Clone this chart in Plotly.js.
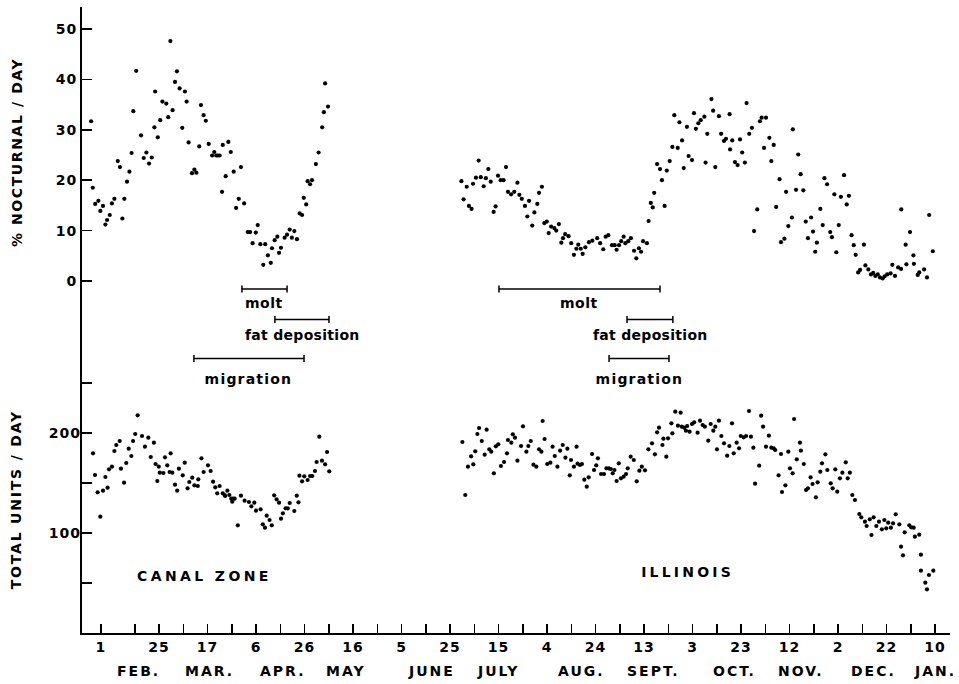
<!DOCTYPE html>
<html>
<head>
<meta charset="utf-8">
<script src="https://cdn.plot.ly/plotly-3.0.1.min.js"></script>
<style>
  html, body { margin: 0; padding: 0; background: #fff; }
  #chart { width: 959px; height: 684px; }
</style>
</head>
<body>
<div id="chart"></div>
<script>
// Days counted from Feb 1 (= 0)
const canalDayUp = [-4.0,-3.3,-2.3,-1.0,-0.2,0.9,1.9,2.6,3.7,4.6,5.6,7.0,7.9,8.9,9.7,10.8,11.8,12.7,13.4,14.6,16.6,17.7,18.8,19.9,21.0,22.1,22.4,23.5,24.5,25.4,27.0,27.8,28.7,29.6,30.6,31.4,32.5,33.6,34.7,35.4,36.2,37.6,38.6,39.4,40.6,41.3,42.4,43.3,44.5,45.9,46.8,47.6,48.2,49.0,50.0,50.3,51.5,52.6,53.6,54.8,55.8,56.9,57.8,59.1,60.6,61.6,62.6,63.9,64.7,65.8,67.0,67.8,68.9,70.1,70.6,71.7,72.8,73.5,74.3,75.8,76.8,77.9,78.8,79.8,80.9,82.0,83.0,83.7,84.7,85.3,86.3,87.1,88.7,89.8,91.3,92.0,92.5,93.7];
const canalNoct = [31.7,18.5,15.3,15.9,13.9,14.9,11.2,12.1,13.1,15.4,16.3,23.8,22.6,12.4,16.3,19.7,21.7,25.4,33.7,41.7,28.9,24.4,25.5,23.3,24.5,30.5,37.6,28.5,31.9,35.6,35.2,32.5,47.6,33.9,39.5,41.6,38.2,30.4,37.6,35.6,27.5,21.4,22.1,21.5,26.7,34.9,32.9,31.8,27.2,24.9,25.6,24.9,24.9,24.9,17.7,27.0,20.8,27.6,25.6,21.7,14.5,16.3,22.6,15.4,9.7,9.7,7.5,9.6,11.1,7.3,3.2,7.3,5.1,3.6,6.5,8.1,8.8,5.6,6.6,8.6,9.2,10.2,8.6,9.9,8.3,13.4,13.1,16.5,15.2,19.8,19.2,20.0,23.2,25.5,30.5,33.5,39.2,34.6];

const canalDayLow = [-3.2,-2.4,-1.3,-0.2,0.9,1.9,2.8,3.4,4.6,5.6,6.4,7.8,8.3,9.6,10.5,11.5,12.6,13.3,14.2,15.2,17.0,18.2,19.6,20.6,21.9,22.6,23.3,23.9,24.3,25.8,26.5,27.4,28.4,28.8,29.5,30.6,31.5,32.2,33.8,34.6,35.8,36.5,37.7,38.6,40.0,40.2,41.5,42.4,44.2,45.3,46.3,47.2,48.0,49.0,50.3,51.1,51.3,52.2,53.0,53.8,54.2,54.6,55.2,56.5,57.8,59.3,61.1,62.1,63.3,64.0,65.9,66.8,67.7,68.4,69.6,70.5,71.5,72.5,73.5,74.3,75.1,76.2,77.1,77.9,79.8,80.8,81.5,81.9,83.0,83.9,85.3,86.3,87.2,88.3,89.0,90.1,91.2,92.5,93.3,94.2];
const canalTotal = [179.7,158,140.7,116.3,142.3,156,145.3,163.7,166.3,182,188,192,164.3,150.3,170,184.3,177,192,199,217.7,197,186.3,195.3,176,190.3,169,152,166.3,160.3,160,175.7,167.7,161,179.7,160.3,148.3,142.3,164.3,157.7,170.3,144.7,151,155.3,147.7,147,153.7,174.7,161,167.7,162,151.3,145.7,139.7,147,139.7,138,137,142.3,138,134.3,131.3,134.3,134.3,107.7,137.3,132.3,131,126.7,130.3,122.3,123.7,108.7,105.3,117.3,113,107.7,137.7,133.7,130.3,114.3,119.7,124.7,124.7,130,122,137.3,130.7,157.3,151.7,156.7,153,157,157,162,171,196.3,172.3,168.7,181,161.7];

const illDayUp = [148.7,149.6,150.9,151.8,152.9,153.5,154.7,155.8,156.7,157.9,158.8,159.8,160.8,162.0,162.8,163.8,164.9,166.1,167.1,167.9,169.2,170.5,171.8,172.6,173.6,174.9,175.9,176.6,177.9,178.8,180.0,180.7,181.9,182.9,183.9,184.7,185.7,187.0,187.8,188.9,189.9,190.6,191.5,192.9,194.0,195.1,196.1,196.9,197.9,198.7,199.8,201.3,202.7,204.7,205.9,207.2,208.2,209.3,210.8,211.9,212.7,213.7,214.6,215.6,216.3,217.5,218.6,219.9,220.8,221.9,222.8,223.6,225.2,225.9,226.8,227.6,228.2,229.4,230.6,231.4,232.5,233.4,234.6,235.7,236.5,237.9,238.6,239.7,240.4,241.7,242.4,243.8,244.6,245.4,246.4,247.4,248.9,249.4,250.1,251.8,252.5,253.4,254.9,255.8,257.0,257.8,259.3,259.5,260.4,261.5,262.6,263.6,264.5,265.6,266.3,267.4,268.5,269.4,270.7,271.8,272.5,273.5,274.3,275.7,276.5,277.5,278.5,279.9,280.5,281.9,282.6,283.5,285.0,285.4,286.7,287.6,288.6,289.7,290.7,291.6,292.9,293.7,294.6,295.3,296.7,297.7,298.4,299.5,300.8,301.5,302.5,303.3,304.3,305.2,306.5,307.6,308.5,309.6,310.5,311.3,312.3,313.1,314.7,315.3,316.5,317.6,318.5,319.4,320.4,321.3,322.4,323.2,324.3,325.7,326.4,327.5,328.8,330.0,330.1,331.9,332.2,333.7,335.1,335.3,336.9,337.5,339.5,340.7,341.6,343.1];
const illNoct = [19.8,16.2,18.7,14.9,14.3,19.3,20.5,23.9,20.6,18.8,20.4,22.2,19.7,13.7,14.8,20.9,20.0,20.0,22.6,17.7,17.2,17.7,19.5,17.1,16.3,14.9,12.8,15.9,11.0,13.6,15.3,17.5,18.7,11.5,11.8,9.5,10.8,10.5,10.0,11.3,7.6,8.5,9.3,8.9,7.5,5.2,6.4,7.2,6.4,5.4,6.7,7.7,8.0,8.5,7.5,6.3,8.8,9.1,7.1,7.1,6.2,7.1,7.9,8.8,7.5,7.9,8.5,6.0,4.5,6.5,5.8,7.9,7.5,11.9,15.5,14.6,17.5,23.2,22.2,20.0,14.9,21.9,23.8,26.6,32.9,26.4,31.5,27.9,22.4,30.6,24.8,24.0,33.3,30.2,31.3,31.9,32.6,23.5,29.2,36.1,33.8,22.6,32.7,29.2,27.8,28.2,33.1,26.1,27.9,23.6,23.0,28.1,25.5,23.5,35.3,29.2,30.4,9.9,14.2,31.7,32.4,26.4,32.4,28.4,23.8,27.0,14.7,20.2,7.7,8.4,17.7,10.9,12.6,30.1,18.1,25.1,21.2,18.0,11.8,8.5,12.6,9.8,5.8,7.6,14.3,11.1,20.4,19.2,9.7,8.7,17.2,5.7,11.1,16.7,21.0,15.2,16.9,9.1,7.1,5.2,1.7,2.2,7.2,3.1,2.3,1.3,1.6,1.0,1.3,0.7,0.5,0.9,1.3,1.5,3.2,1.0,2.7,2.4,14.2,7.2,3.3,9.7,5.1,3.4,1.2,1.7,2.3,0.7,13.1,5.9];

const illDayLow = [149.1,150.3,151.4,152.7,153.6,154.4,155.3,156.0,157.1,158.3,159.1,160.2,161.0,162.1,162.9,163.9,165.0,166.3,167.5,167.9,169.3,169.9,170.8,171.8,173.3,174.1,175.5,176.3,177.3,178.4,179.6,180.7,181.7,182.2,183.0,184.1,185.4,186.3,187.2,188.3,189.4,190.5,191.6,192.4,193.4,193.9,195.1,196.2,196.6,197.6,198.4,199.4,200.4,201.2,202.6,203.4,204.3,205.0,206.3,207.5,208.5,209.5,210.3,211.1,211.8,212.7,213.6,214.5,215.6,216.6,217.3,218.5,219.8,221.0,222.1,223.1,224.4,225.8,227.3,228.5,229.4,230.2,231.6,232.0,233.2,233.9,235.3,235.7,236.9,238.0,239.1,239.6,240.6,241.3,241.8,242.8,243.8,244.7,246.1,247.1,248.2,249.1,250.5,251.5,252.6,253.4,254.1,254.9,255.9,257.0,258.3,259.2,260.3,261.0,262.2,263.2,263.9,265.1,266.1,267.3,268.1,269.1,269.8,271.5,272.3,273.1,274.3,275.5,276.5,277.5,278.1,279.5,280.5,280.9,282.3,283.5,284.2,285.3,285.9,287.0,288.3,288.7,289.9,290.8,291.6,292.7,293.5,294.9,295.6,296.7,297.4,298.8,299.6,301.0,301.8,302.9,303.7,304.8,305.8,307.2,308.0,308.9,309.9,311.0,312.8,313.6,315.1,315.8,317.1,317.8,318.7,319.8,320.9,322.1,323.1,323.9,324.7,325.8,326.7,327.8,329.3,330.0,330.8,331.5,333.4,334.2,335.2,335.7,337.5,338.2,338.2,340.0,340.7,341.5,343.3];
const illTotal = [191,138,166.3,176.7,168.7,181.7,199,205,192,178.3,203.3,183.7,181.3,159.7,186.7,188.7,167,171,179.7,193,190.3,198.7,195.3,172.3,187,206.7,181.3,187,192,168.3,166.3,183.7,181.3,212,194,169,170.3,186.3,177,166.3,182.3,188,175.3,184.3,157.7,173,166.3,186.3,169.3,168,169,153.3,146.3,155.7,179,163,167.7,174.7,159,159,164.7,164.7,164,159.7,163,152,169.7,154.7,156.3,159,164.7,176.3,173,151.7,162.3,166.3,162.7,183.7,189.7,178.7,200.7,205.3,188,194.3,176.3,194.7,209.7,199.7,221.3,207.3,220.3,206.3,205.3,202.3,207,201.3,209,210.7,200.3,212.3,208,206.3,192.3,209,202.3,206.3,183.7,212.3,197,189.7,177.3,187,209.7,179.7,190.3,184.7,197,195.7,197,222,196.3,185.3,149.3,167.3,217.3,206.3,186.3,197.3,185.3,184.7,183,157.7,179,141,147.7,181.3,164.7,159.7,214,173.7,190.3,182.3,169,143,144.7,155.7,149,135.7,150.7,161.3,169.7,178.7,163,149.7,144.7,163.7,141.3,154.7,160.3,170.7,154.7,160.3,138,133,119,115.7,111.3,107,113.7,98,115.7,107,111.3,103.7,113,104.7,110.3,105.3,109.7,118.7,108.7,86.3,77.7,100.7,107.7,105.7,105.3,96.3,98.3,78.3,62.3,50.3,43.7,58,62.3];

// X-axis ticks (every 10 days, labelled every 20)
const tickDays = [0,14,24,34,44,54,64,74,84,94,104,114,124,134,144,154,164,174,184,194,204,214,224,234,244,254,264,274,284,294,304,314,324,334,344];
const tickLabels = ['1','','25','','17','','6','','26','','16','','5','','25','','15','','4','','24','','13','','3','','23','','12','','2','','22','','10'];

const monthNames = ['FEB.','MAR.','APR.','MAY','JUNE','JULY','AUG.','SEPT.','OCT.','NOV.','DEC.','JAN.'];
const monthDays = [15.7,45.0,75.1,101.3,136.4,164.2,198.2,228.1,261.3,288.7,318.8,344.0];

const nocTicks = [0,10,20,30,40,50];
const totTicks = [50,100,150,200,250];
const totTickLabels = ['','100','','200',''];

// Annual-cycle phases (start/end in days)
const phaseNames = ['molt','fat deposition','migration','molt','fat deposition','migration'];
const phaseStart = [58.2,71.8,38.4,164.2,217.0,209.6];
const phaseEnd = [76.8,94.1,83.8,230.6,235.9,234.3];

const siteNames = ['CANAL ZONE','ILLINOIS'];
const siteDays = [42.8,241.9];

// ---- layout helpers (pixel -> paper) ----
const TOP = 7, BOTTOM = 633, LEFT = 82, RIGHT = 950;
const PH = BOTTOM - TOP;
const py = p => (BOTTOM - p) / PH;
const FONT = 'DejaVu Sans, Verdana, sans-serif';

const dot = {color: 'black', size: 4.2};
const traces = [
  {x: canalDayUp, y: canalNoct, mode: 'markers', type: 'scatter', marker: dot, yaxis: 'y', hoverinfo: 'x+y'},
  {x: illDayUp, y: illNoct, mode: 'markers', type: 'scatter', marker: dot, yaxis: 'y', hoverinfo: 'x+y'},
  {x: canalDayLow, y: canalTotal, mode: 'markers', type: 'scatter', marker: dot, yaxis: 'y2', hoverinfo: 'x+y'},
  {x: illDayLow, y: illTotal, mode: 'markers', type: 'scatter', marker: dot, yaxis: 'y2', hoverinfo: 'x+y'}
];

const barY = [289, 319.5, 358.5];
const textY = [302.5, 335, 378.5];
const shapes = [];
const annotations = [];
phaseNames.forEach((name, i) => {
  const row = i % 3;
  const yb = py(barY[row]);
  const cap = 3.5 / PH;
  const ln = {color: 'black', width: 1.5};
  shapes.push({type: 'line', xref: 'x', yref: 'paper', x0: phaseStart[i], x1: phaseEnd[i], y0: yb, y1: yb, line: ln});
  shapes.push({type: 'line', xref: 'x', yref: 'paper', x0: phaseStart[i], x1: phaseStart[i], y0: yb - cap, y1: yb + cap, line: ln});
  shapes.push({type: 'line', xref: 'x', yref: 'paper', x0: phaseEnd[i], x1: phaseEnd[i], y0: yb - cap, y1: yb + cap, line: ln});
  annotations.push({xref: 'x', yref: 'paper', x: (phaseStart[i] + phaseEnd[i]) / 2, y: py(textY[row]),
    text: name, showarrow: false, xanchor: 'center', yanchor: 'middle',
    font: {family: FONT, size: 14, color: 'black', weight: 'bold'}});
});

monthNames.forEach((m, i) => {
  annotations.push({xref: 'x', yref: 'paper', x: monthDays[i], y: py(671), text: m, showarrow: false,
    xanchor: 'center', yanchor: 'middle', font: {family: FONT, size: 14, color: 'black', weight: 'bold'}});
});

const siteY = [576, 572];
siteNames.forEach((s, i) => {
  annotations.push({xref: 'x', yref: 'paper', x: siteDays[i], y: py(siteY[i]), text: s, showarrow: false,
    xanchor: 'center', yanchor: 'middle', font: {family: FONT, size: 14, color: 'black', weight: 'bold'}});
});

annotations.push({xref: 'paper', yref: 'paper', x: (16 - LEFT) / (RIGHT - LEFT), y: py(152.5), text: '% NOCTURNAL / DAY',
  textangle: -90, showarrow: false, xanchor: 'center', yanchor: 'middle',
  font: {family: FONT, size: 14, color: 'black', weight: 'bold'}});
annotations.push({xref: 'paper', yref: 'paper', x: (16 - LEFT) / (RIGHT - LEFT), y: py(500), text: 'TOTAL UNITS / DAY',
  textangle: -90, showarrow: false, xanchor: 'center', yanchor: 'middle',
  font: {family: FONT, size: 14, color: 'black', weight: 'bold'}});

const tickFont = {family: FONT, size: 14, color: 'black', weight: 'bold'};
const zeroUp = 281;
const pxPerUnit = 5.04;

const layout = {
  width: 959, height: 684,
  margin: {l: LEFT, r: 959 - RIGHT, t: TOP, b: 684 - BOTTOM, pad: 0},
  paper_bgcolor: 'white', plot_bgcolor: 'white',
  showlegend: false,
  xaxis: {
    range: [(LEFT - 100.8) / 2.425, (RIGHT - 100.8) / 2.425],
    showline: true, linecolor: 'black', linewidth: 2, mirror: false,
    ticks: 'inside', ticklen: 9, tickwidth: 1.5, tickcolor: 'black',
    tickvals: tickDays, ticktext: tickLabels, tickfont: tickFont,
    showgrid: false, zeroline: false, fixedrange: true
  },
  yaxis: {
    range: [-(BOTTOM - zeroUp) / pxPerUnit, (zeroUp - TOP) / pxPerUnit],
    showline: true, linecolor: 'black', linewidth: 2,
    ticks: 'inside', ticklen: 10, tickwidth: 1.5, tickcolor: 'black',
    tickvals: nocTicks, ticktext: nocTicks.map(String), tickfont: tickFont,
    showgrid: false, zeroline: false, fixedrange: true
  },
  yaxis2: {
    range: [0, PH], overlaying: 'y', side: 'left', anchor: 'x',
    showline: false,
    ticks: 'inside', ticklen: 10, tickwidth: 1.5, tickcolor: 'black',
    tickvals: totTicks, ticktext: totTickLabels, tickfont: tickFont,
    showgrid: false, zeroline: false, fixedrange: true
  },
  shapes: shapes,
  annotations: annotations
};

const spacing = {
  'molt': 0.5, 'fat deposition': 0.3, 'migration': 1.2,
  'CANAL ZONE': 3.4, 'ILLINOIS': 3.2,
  '% NOCTURNAL / DAY': 1.6, 'TOTAL UNITS / DAY': 1.8
};

Plotly.newPlot('chart', traces, layout, {displayModeBar: false, staticPlot: true}).then(() => {
  document.querySelectorAll('.annotation-text').forEach(t => {
    const s = t.textContent;
    let ls = spacing[s];
    if (ls === undefined) ls = 2;
    t.style.letterSpacing = ls + 'px';
  });
  document.querySelectorAll('.xtick text, .ytick text, .y2tick text').forEach(t => {
    t.style.letterSpacing = '1px';
  });
});
</script>
</body>
</html>
